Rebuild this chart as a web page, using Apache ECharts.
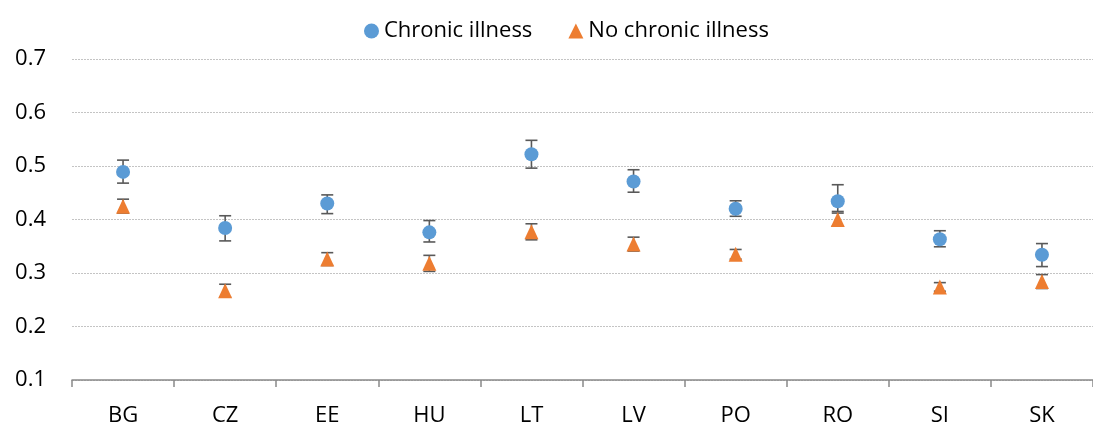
<!DOCTYPE html>
<html>
<head>
<meta charset="utf-8">
<script src="https://cdn.jsdelivr.net/npm/echarts@6/dist/echarts.min.js"></script>
<style>
  html, body { margin: 0; padding: 0; background: #ffffff; }
  #chart { width: 1093px; height: 427px; }
</style>
</head>
<body>
<div id="chart"></div>
<script>
const categories = ['BG', 'CZ', 'EE', 'HU', 'LT', 'LV', 'PO', 'RO', 'SI', 'SK'];
const yTicks = [0.1, 0.2, 0.3, 0.4, 0.5, 0.6, 0.7];

const chronic      = [0.489, 0.384, 0.430, 0.376, 0.522, 0.471, 0.420, 0.434, 0.363, 0.334];
const chronicLow   = [0.468, 0.360, 0.411, 0.358, 0.496, 0.451, 0.406, 0.415, 0.349, 0.312];
const chronicHigh  = [0.511, 0.407, 0.446, 0.398, 0.548, 0.493, 0.435, 0.465, 0.379, 0.355];

const noChronic     = [0.425, 0.267, 0.326, 0.318, 0.377, 0.354, 0.335, 0.400, 0.274, 0.284];
const noChronicLow  = [0.412, 0.255, 0.314, 0.303, 0.362, 0.341, 0.326, 0.388, 0.266, 0.271];
const noChronicHigh = [0.438, 0.279, 0.338, 0.333, 0.392, 0.367, 0.344, 0.412, 0.282, 0.297];

const FONT = "'Open Sans', 'DejaVu Sans', sans-serif";
const ERR_COLOR = '#595959';
const CAP = 12;

function errorBars(low, high) {
  return categories.map((c, i) => [i, low[i], high[i]]);
}

function renderError(params, api) {
  const x = api.value(0);
  const lo = api.coord([x, api.value(1)]);
  const hi = api.coord([x, api.value(2)]);
  const style = { stroke: ERR_COLOR, lineWidth: 1.6 };
  return {
    type: 'group',
    children: [
      { type: 'line', shape: { x1: lo[0], y1: lo[1], x2: hi[0], y2: hi[1] }, style },
      { type: 'line', shape: { x1: hi[0] - CAP / 2, y1: hi[1], x2: hi[0] + CAP / 2, y2: hi[1] }, style },
      { type: 'line', shape: { x1: lo[0] - CAP / 2, y1: lo[1], x2: lo[0] + CAP / 2, y2: lo[1] }, style }
    ]
  };
}

const chart = echarts.init(document.getElementById('chart'), null, { renderer: 'canvas' });
chart.setOption({
  animation: false,
  backgroundColor: '#ffffff',
  grid: { left: 72, top: 59, width: 1033, bottom: 45, containLabel: false },
  legend: {
    left: 359,
    top: 15,
    itemWidth: 15,
    itemHeight: 15,
    itemGap: 36,
    data: [
      { name: 'Chronic illness', icon: 'circle' },
      { name: 'No chronic illness', icon: 'triangle' }
    ],
    textStyle: { fontFamily: FONT, fontSize: 22, color: '#000000' }
  },
  xAxis: {
    type: 'category',
    data: categories,
    boundaryGap: true,
    axisLine: { show: true, lineStyle: { color: '#898989', width: 1.5 } },
    axisTick: { show: true, length: 7, alignWithLabel: false, lineStyle: { color: '#898989', width: 1.5 } },
    axisLabel: { fontFamily: FONT, fontSize: 22, color: '#000000', margin: 25 },
    splitLine: { show: false }
  },
  yAxis: {
    type: 'value',
    min: yTicks[0],
    max: yTicks[yTicks.length - 1],
    interval: 0.1,
    axisLine: { show: false },
    axisTick: { show: false },
    axisLabel: {
      fontFamily: FONT, fontSize: 22, color: '#000000', margin: 26,
      formatter: v => v.toFixed(1)
    },
    splitLine: { show: true, lineStyle: { color: '#c4c4c4', width: 1, type: [2, 1] } }
  },
  series: [
    {
      name: 'chronicErr',
      type: 'custom',
      renderItem: renderError,
      data: errorBars(chronicLow, chronicHigh),
      z: 2,
      silent: true
    },
    {
      name: 'noChronicErr',
      type: 'custom',
      renderItem: renderError,
      data: errorBars(noChronicLow, noChronicHigh),
      z: 2,
      silent: true
    },
    {
      name: 'Chronic illness',
      type: 'scatter',
      data: chronic,
      symbol: 'circle',
      symbolSize: 14,
      itemStyle: { color: '#5B9BD5', opacity: 1 },
      z: 3
    },
    {
      name: 'No chronic illness',
      type: 'scatter',
      data: noChronic,
      symbol: 'triangle',
      symbolSize: [14, 15],
      itemStyle: { color: '#ED7D31', opacity: 1 },
      z: 3
    }
  ]
});
</script>
</body>
</html>
